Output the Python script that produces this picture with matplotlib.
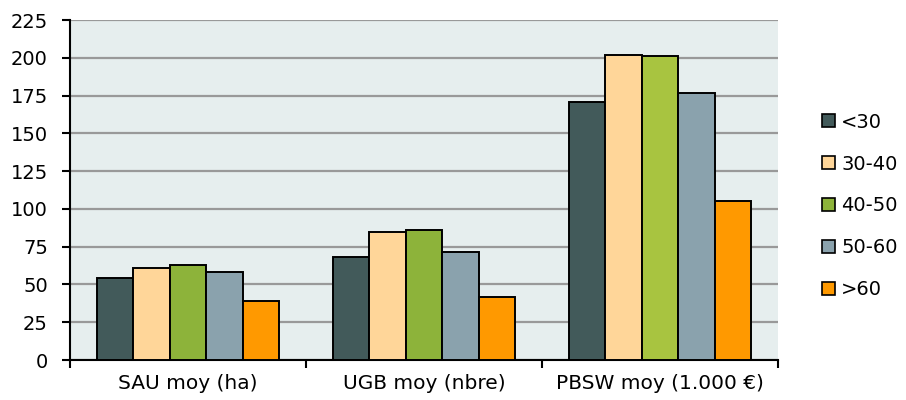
import matplotlib
matplotlib.use("Agg")
import matplotlib.pyplot as plt
import numpy as np
from matplotlib.patches import Patch

categories = ["SAU moy (ha)", "UGB moy (nbre)", "PBSW moy (1.000 €)"]
series = ["<30", "30-40", "40-50", "50-60", ">60"]
values = {
    "<30":   [54, 68, 171],
    "30-40": [61, 85, 202],
    "40-50": [63, 86, 201],
    "50-60": [58, 71.5, 177],
    ">60":   [39, 42, 105],
}
colors = {
    "<30": ["#425a5a"] * 3,
    "30-40": ["#ffd699"] * 3,
    "40-50": ["#8db33a", "#8db33a", "#a8c440"],
    "50-60": ["#8aa2ad"] * 3,
    ">60": ["#ff9900"] * 3,
}
yticks = list(range(0, 226, 25))

plt.rcParams['font.family'] = ['DejaVu Sans']
FS = 14
fig = plt.figure(figsize=(9.06, 4.0), dpi=100)
ax = fig.add_axes([70/906, 40/400, 708/906, 340/400])
ax.set_facecolor("#e6eeee")

x = np.arange(len(categories))
bw = 0.154
for i, s in enumerate(series):
    ax.bar(x + (i - 2) * bw, values[s], width=bw, color=colors[s],
           edgecolor="black", linewidth=1.4, zorder=3)

ax.set_xlim(-0.5, 2.5)
ax.set_ylim(0, 225)
ax.set_yticks(yticks)
ax.set_yticklabels([str(t) for t in yticks], fontsize=FS)
ax.yaxis.grid(True, color="#999999", linewidth=1.6, zorder=0)
ax.set_axisbelow(True)
ax.set_xticks(x)
ax.set_xticklabels(categories, fontsize=14.5)
ax.tick_params(axis='x', length=0, pad=10)
ax.set_xticks([-0.5, 0.5, 1.5, 2.5], minor=True)
ax.tick_params(axis='x', which='minor', length=6, width=1.5, direction='out')
ax.tick_params(axis='y', length=6, width=1.5, direction='out', pad=10)
for sp in ["top", "right"]:
    ax.spines[sp].set_visible(False)
for sp in ["left", "bottom"]:
    ax.spines[sp].set_linewidth(1.5)

handles = [Patch(facecolor=colors[s][0], edgecolor="black", linewidth=1.2, label=s) for s in series]
fig.legend(handles=handles, loc="center left", bbox_to_anchor=(822/906, 1 - 206/400),
           frameon=False, fontsize=FS, handlelength=0.68, handleheight=0.68,
           labelspacing=1.18, handletextpad=0.3, borderpad=0, borderaxespad=0)

fig.savefig("out.png", dpi=100)
